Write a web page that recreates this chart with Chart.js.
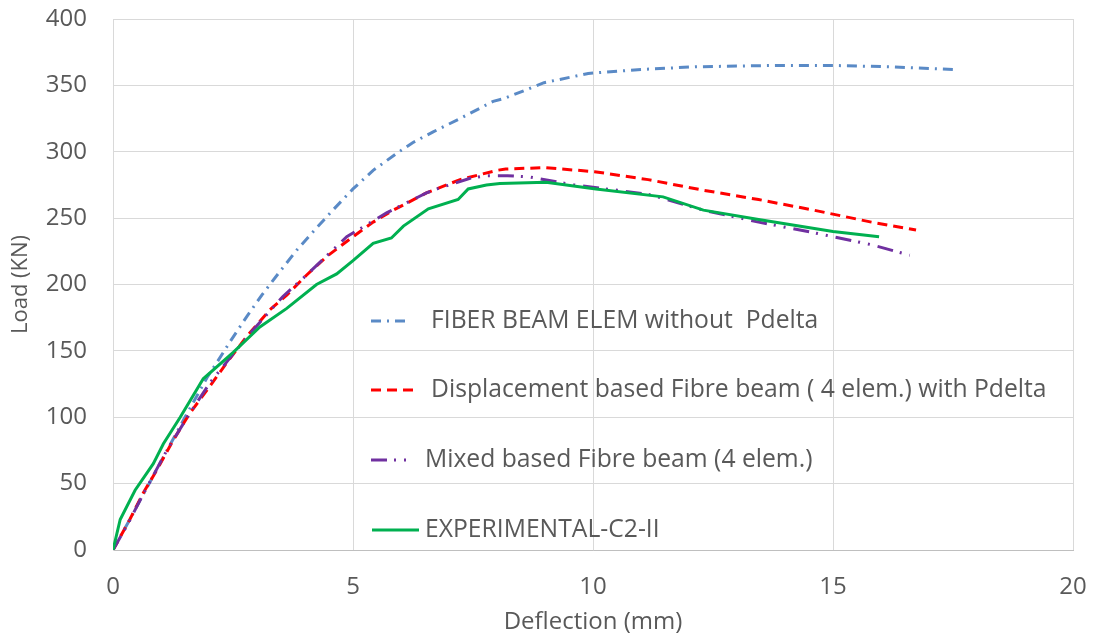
<!DOCTYPE html>
<html>
<head>
<meta charset="utf-8">
<script src="https://cdn.jsdelivr.net/npm/chart.js@4.4.1/dist/chart.umd.min.js"></script>
<style>
  html, body { margin: 0; padding: 0; background: #fff; }
  #wrap { width: 1096px; height: 639px; }
</style>
</head>
<body>
<div id="wrap"><canvas id="myChart" width="1096" height="639"></canvas></div>
<script>
// Load (KN) vs deflection (mm)
const fiberX = [0, 0.35, 0.9, 1.5, 1.96, 2.16, 2.44, 2.79, 3.1, 3.46, 3.83, 4.25, 4.58, 5.0, 5.42, 5.92, 6.25, 6.67, 7.23, 7.92, 8.14, 8.98, 9.9, 11.0, 12.14, 13.8, 15.0, 16.2, 17.5]
const fiberY = [0, 23, 60, 100, 130, 141, 157, 176, 192, 209, 226, 243, 256, 272, 286, 299, 307, 315, 325, 338, 340, 352, 359, 362, 364, 365, 365, 364, 362]

const dispX = [0, 0.35, 0.63, 0.91, 1.26, 1.6, 1.95, 2.37, 2.79, 3.27, 3.62, 4.03, 4.45, 5.0, 5.42, 5.84, 6.53, 7.23, 8.0, 8.18, 8.99, 10.03, 11.15, 12.3, 13.45, 14.6, 15.8, 16.73]
const dispY = [0, 23, 43, 60, 83, 103, 120, 141, 161, 181, 192, 207, 221, 236, 247, 256, 269, 279, 286, 287, 288, 285, 279, 271, 264, 256, 247, 241]

const mixedX = [0, 0.3, 0.6, 1.12, 1.6, 2.02, 2.4, 2.85, 3.54, 4.03, 4.87, 5.7, 6.53, 6.75, 7.44, 7.78, 8.22, 8.68, 9.6, 10.5, 11.15, 12.3, 13.45, 14.6, 15.8, 16.6]
const mixedY = [0, 19, 40, 75, 103, 126, 143, 163, 191, 207, 236, 254, 269, 272, 280, 282, 282, 281, 275, 271, 268, 256, 247, 239, 230, 222]

const expX = [0, 0.15, 0.46, 0.84, 1.05, 1.4, 1.88, 2.51, 3.06, 3.62, 4.24, 4.66, 5.0, 5.42, 5.8, 6.05, 6.57, 7.19, 7.4, 7.78, 8.06, 9.02, 10.06, 11.46, 12.3, 13.45, 15.0, 15.96]
const expY = [0, 23, 45, 65, 80, 100, 129, 149, 168, 182, 200, 208, 218, 231, 235, 244, 257, 264, 272, 275, 276, 277, 272, 266, 256, 249, 240, 236]

const seriesLabels = [
    'FIBER BEAM ELEM without  Pdelta',
    'Displacement based Fibre beam ( 4 elem.) with Pdelta',
    'Mixed based Fibre beam (4 elem.)',
    'EXPERIMENTAL-C2-II',
]

const xTicks = [0, 5, 10, 15, 20]
const yTicks = [0, 50, 100, 150, 200, 250, 300, 350, 400]

const textColor = '#595959'
const fontName = "'Open Sans', sans-serif"

function toPoints(xs, ys) {
    return xs.map((x, i) => ({ x: x, y: ys[i] }))
}

// legend sits inside the plot, like the Excel original
const insideLegend = {
    id: 'insideLegend',
    afterDraw(chart) {
        const ctx = chart.ctx
        const rows = [
            { y: 321, x0: 371, x1: 410, tx: 431 },
            { y: 390, x0: 371, x1: 418, tx: 431 },
            { y: 460, x0: 371, x1: 414, tx: 425 },
            { y: 530, x0: 372, x1: 419, tx: 425 },
        ]
        chart.data.datasets.forEach((ds, i) => {
            const r = rows[i]
            ctx.save()
            ctx.strokeStyle = ds.borderColor
            ctx.lineWidth = ds.borderWidth
            ctx.setLineDash(ds.borderDash || [])
            ctx.beginPath()
            ctx.moveTo(r.x0, r.y)
            ctx.lineTo(r.x1, r.y)
            ctx.stroke()
            ctx.setLineDash([])
            ctx.fillStyle = textColor
            ctx.font = '24.7px ' + fontName
            ctx.textBaseline = 'middle'
            ctx.textAlign = 'left'
            ctx.fillText(ds.label, r.tx, r.y)
            ctx.restore()
        })
    }
}

const ctx = document.getElementById('myChart').getContext('2d')

new Chart(ctx, {
    type: 'line',
    data: {
        datasets: [
            {
                label: seriesLabels[0],
                data: toPoints(fiberX, fiberY),
                borderColor: '#5A8AC6',
                borderWidth: 3,
                borderDash: [10, 6, 2, 6],
                order: 4,
            },
            {
                label: seriesLabels[1],
                data: toPoints(dispX, dispY),
                borderColor: '#FF0000',
                borderWidth: 3,
                borderDash: [10, 6],
                order: 3,
            },
            {
                label: seriesLabels[2],
                data: toPoints(mixedX, mixedY),
                borderColor: '#7030A0',
                borderWidth: 3,
                borderDash: [16, 7, 2, 8, 2, 8],
                order: 2,
            },
            {
                label: seriesLabels[3],
                data: toPoints(expX, expY),
                borderColor: '#00B050',
                borderWidth: 3,
                order: 1,
            },
        ]
    },
    options: {
        responsive: false,
        animation: false,
        elements: {
            point: { radius: 0 },
            line: { tension: 0, fill: false },
        },
        layout: {
            padding: { left: 0, right: 23, top: 19, bottom: 0 }
        },
        plugins: {
            legend: { display: false },
            tooltip: { enabled: false },
        },
        scales: {
            x: {
                type: 'linear',
                min: 0,
                max: 20,
                afterBuildTicks(scale) {
                    scale.ticks = xTicks.map(v => ({ value: v }))
                },
                afterFit(scale) {
                    scale.height = 89
                    scale.paddingLeft = 0
                    scale.paddingRight = 0
                },
                grid: {
                    color: '#d9d9d9',
                    lineWidth: 1,
                    drawTicks: false,
                },
                border: { color: '#bfbfbf', width: 1 },
                ticks: {
                    color: textColor,
                    font: { family: fontName, size: 24 },
                    padding: 23,
                },
                title: {
                    display: true,
                    text: 'Deflection (mm)',
                    color: textColor,
                    font: { family: fontName, size: 24 },
                    padding: { top: 0, bottom: 2 },
                },
            },
            y: {
                type: 'linear',
                min: 0,
                max: 400,
                afterBuildTicks(scale) {
                    scale.ticks = yTicks.map(v => ({ value: v }))
                },
                afterFit(scale) {
                    scale.width = 113
                    scale.paddingTop = 0
                    scale.paddingBottom = 0
                },
                grid: {
                    color: '#d9d9d9',
                    lineWidth: 1,
                    drawTicks: false,
                },
                border: { color: '#d9d9d9', width: 1 },
                ticks: {
                    color: textColor,
                    font: { family: fontName, size: 24 },
                    padding: 26,
                },
                title: {
                    display: true,
                    text: 'Load (KN)',
                    color: textColor,
                    font: { family: fontName, size: 22 },
                    padding: { top: 8, bottom: 0 },
                },
            },
        },
    },
    plugins: [insideLegend],
})
</script>
</body>
</html>
